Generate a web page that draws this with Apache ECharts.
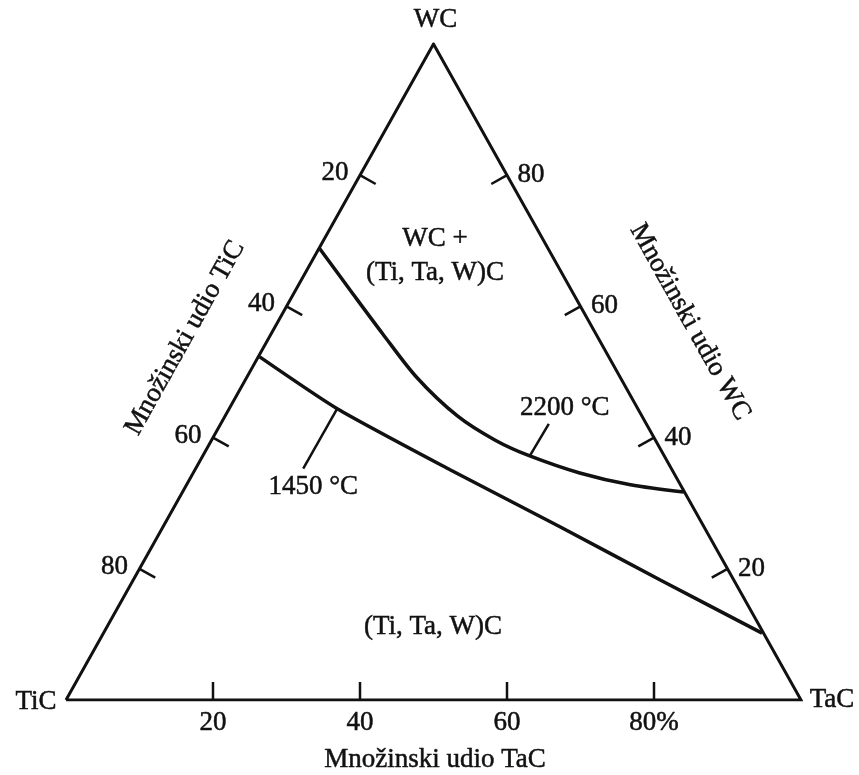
<!DOCTYPE html>
<html><head><meta charset="utf-8">
<script src="https://cdn.jsdelivr.net/npm/echarts@6.0.0/dist/echarts.min.js"></script>
<style>html,body{margin:0;padding:0;background:#fff}#c{width:859px;height:775px}</style>
</head><body><div id="c"></div>
<script>
// Compositions in mole %: TaC and WC given, TiC = 100 - TaC - WC
const vertexNames = ['TiC', 'TaC', 'WC'];
const vertexTaC = [0, 100, 0];
const vertexWC = [0, 0, 100];

const tickValues = [20, 40, 60, 80];
const ticTickLabels = ['20', '40', '60', '80'];
const wcTickLabels = ['20', '40', '60', '80'];
const tacTickLabels = ['20', '40', '60', '80%'];

const curve2200TaC = [0, 7.4, 15.2, 23.1, 31.6, 38.6, 44.5, 52.6, 60.4, 68.2];
const curve2200WC  = [68.9, 62.5, 55.8, 49.2, 43.3, 39.6, 37.2, 34.6, 32.8, 31.7];

const curve1450TaC = [0.2, 14.7, 34.7, 54.0, 71.7, 89.6];
const curve1450WC  = [52.3, 44.4, 35.1, 26.4, 18.3, 10.2];

const curveLabels = ['2200 °C', '1450 °C'];
const labelAnchorTaC = [44.5, 14.7];
const labelAnchorWC = [37.2, 44.4];

const axisTitles = ['Množinski udio TiC', 'Množinski udio WC', 'Množinski udio TaC'];
const regionLabels = ['WC +\n(Ti, Ta, W)C', '(Ti, Ta, W)C'];

function toXY(tac, wc) { return [tac + wc / 2, wc]; }

const FONT = '27px "Liberation Serif", "DejaVu Serif", serif';
const INK = '#111';
const TXT = {font: FONT, fill: INK, stroke: INK, lineWidth: 0.5, align: 'center', verticalAlign: 'middle'};

const tickAxisLabels = [ticTickLabels, wcTickLabels, tacTickLabels];
const tickData = [];
for (let a = 0; a < 3; a++) for (let i = 0; i < tickValues.length; i++) tickData.push([a, tickValues[i], i]);

function edgePoint(a, v) {
  if (a === 0) return toXY(0, 100 - v);      // TiC axis (left edge)
  if (a === 1) return toXY(100 - v, v);      // WC axis (right edge)
  return toXY(v, 0);                         // TaC axis (base)
}
function edgeEnds(a) {
  if (a === 0) return [toXY(0, 0), toXY(0, 100)];
  if (a === 1) return [toXY(100, 0), toXY(0, 100)];
  return [toXY(0, 0), toXY(100, 0)];
}
const labelOffsets = [[-25, -2], [24, 0], [0, 23]];

const chart = echarts.init(document.getElementById('c'), null, {renderer: 'canvas'});
chart.setOption({
  animation: false,
  backgroundColor: '#fff',
  grid: {left: 66, right: 58, top: 44, bottom: 75},
  xAxis: {type: 'value', min: 0, max: 100, show: false},
  yAxis: {type: 'value', min: 0, max: 100, show: false},
  series: [
    {
      type: 'line', symbol: 'none', silent: true,
      data: [0, 1, 2, 0].map(i => toXY(vertexTaC[i], vertexWC[i])),
      lineStyle: {color: INK, width: 3, join: 'miter'}
    },
    {
      type: 'line', symbol: 'none', smooth: 0.3, silent: true,
      data: curve2200TaC.map((t, i) => toXY(t, curve2200WC[i])),
      lineStyle: {color: INK, width: 3.5}
    },
    {
      type: 'line', symbol: 'none', smooth: 0.2, silent: true,
      data: curve1450TaC.map((t, i) => toXY(t, curve1450WC[i])),
      lineStyle: {color: INK, width: 3.5}
    },
    {
      type: 'custom', silent: true,
      data: tickData,
      renderItem: function (params, api) {
        const a = api.value(0), v = api.value(1), idx = api.value(2);
        const p = api.coord(edgePoint(a, v));
        const ends = edgeEnds(a).map(e => api.coord(e));
        const c = api.coord(toXY(33.33, 33.33));
        let dx = ends[1][0] - ends[0][0], dy = ends[1][1] - ends[0][1];
        const len = Math.hypot(dx, dy);
        let nx = -dy / len, ny = dx / len;
        if (nx * (c[0] - p[0]) + ny * (c[1] - p[1]) < 0) { nx = -nx; ny = -ny; }
        const off = labelOffsets[a];
        return {
          type: 'group',
          children: [
            {type: 'line', shape: {x1: p[0], y1: p[1], x2: p[0] + nx * 18, y2: p[1] + ny * 18},
             style: {stroke: INK, lineWidth: 2.5}},
            {type: 'text', x: p[0] + off[0], y: p[1] + off[1],
             style: Object.assign({text: tickAxisLabels[a][idx]}, TXT)}
          ]
        };
      }
    },
    {
      type: 'custom', silent: true,
      data: vertexNames.map((n, i) => [vertexTaC[i], vertexWC[i], i]),
      renderItem: function (params, api) {
        const i = api.value(2);
        const p = api.coord(toXY(api.value(0), api.value(1)));
        const offs = [[-30, 2], [31, 0], [2, -24]];
        return {type: 'text', x: p[0] + offs[i][0], y: p[1] + offs[i][1],
          style: Object.assign({text: vertexNames[i]}, TXT)};
      }
    },
    {
      type: 'custom', silent: true,
      data: curveLabels.map((l, i) => [labelAnchorTaC[i], labelAnchorWC[i], i]),
      renderItem: function (params, api) {
        const i = api.value(2);
        const p = api.coord(toXY(api.value(0), api.value(1)));
        const lead = [[19, -32], [-34, 60]][i];
        const lab = [[35, -48], [-24, 78]][i];
        return {
          type: 'group',
          children: [
            {type: 'line', shape: {x1: p[0], y1: p[1], x2: p[0] + lead[0], y2: p[1] + lead[1]},
             style: {stroke: INK, lineWidth: 2.5}},
            {type: 'text', x: p[0] + lab[0], y: p[1] + lab[1],
             style: Object.assign({text: curveLabels[i]}, TXT)}
          ]
        };
      }
    }
  ],
  graphic: [
    {type: 'text', x: 185, y: 338, rotation: 1.06,
     style: Object.assign({text: axisTitles[0]}, TXT)},
    {type: 'text', x: 690, y: 322, rotation: -1.06,
     style: Object.assign({text: axisTitles[1]}, TXT)},
    {type: 'text', x: 435, y: 760,
     style: Object.assign({text: axisTitles[2]}, TXT)},
    {type: 'text', x: 435, y: 256,
     style: Object.assign({text: regionLabels[0], lineHeight: 34}, TXT)},
    {type: 'text', x: 433, y: 627,
     style: Object.assign({text: regionLabels[1]}, TXT)}
  ]
});
</script>
</body></html>
